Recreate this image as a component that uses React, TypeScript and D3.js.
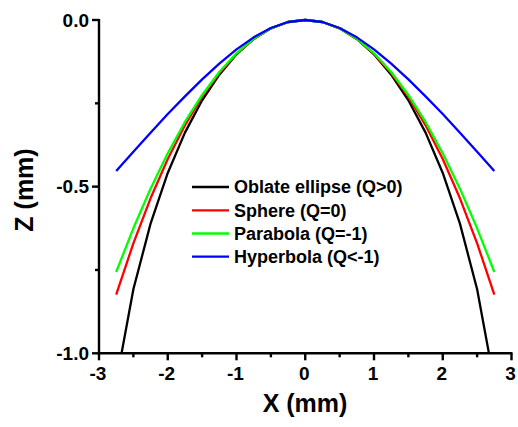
import React from "react";
import * as d3 from "d3";

// Radial positions (mm) where each profile was sampled
const xs = [-2.75, -2.5, -2.25, -2, -1.75, -1.5, -1.25, -1, -0.75, -0.5, -0.25, 0,
  0.25, 0.5, 0.75, 1, 1.25, 1.5, 1.75, 2, 2.25, 2.5, 2.75];

// Sag (mm) of each conic profile
const oblate = [-1.087, -0.808, -0.611, -0.459, -0.338, -0.241, -0.164, -0.103, -0.057, -0.025, -0.006, 0,
  -0.006, -0.025, -0.057, -0.103, -0.164, -0.241, -0.338, -0.459, -0.611, -0.808, -1.087];
const sphere = [-0.824, -0.670, -0.535, -0.417, -0.316, -0.230, -0.159, -0.101, -0.057, -0.025, -0.006, 0,
  -0.006, -0.025, -0.057, -0.101, -0.159, -0.230, -0.316, -0.417, -0.535, -0.670, -0.824];
const parabola = [-0.756, -0.625, -0.506, -0.400, -0.306, -0.225, -0.156, -0.100, -0.056, -0.025, -0.006, 0,
  -0.006, -0.025, -0.056, -0.100, -0.156, -0.225, -0.306, -0.400, -0.506, -0.625, -0.756];
const hyperbola = [-0.453, -0.395, -0.338, -0.282, -0.229, -0.178, -0.131, -0.088, -0.052, -0.024, -0.006, 0,
  -0.006, -0.024, -0.052, -0.088, -0.131, -0.178, -0.229, -0.282, -0.338, -0.395, -0.453];

const seriesNames = ["Oblate ellipse (Q>0)", "Sphere (Q=0)", "Parabola (Q=-1)", "Hyperbola (Q<-1)"];
const seriesColors = ["#000000", "#ff0000", "#00ff00", "#0000ff"];
const seriesValues = [oblate, sphere, parabola, hyperbola];

const xMajor = [-3, -2, -1, 0, 1, 2, 3];
const xMinor = [-2.5, -1.5, -0.5, 0.5, 1.5, 2.5];
const yMajor = [0, -0.5, -1];
const yMinor = [-0.25, -0.75];

const W = 518;
const H = 427;
const FONT = "'Liberation Sans', Arial, Helvetica, sans-serif";

export default function App() {
  const x = d3.scaleLinear().domain([-3, 3]).range([99, 511.5]);
  const y = d3.scaleLinear().domain([-1, 0]).range([353.3, 20]);

  const line = d3
    .line<number>()
    .x((_, i) => x(xs[i]))
    .y((d) => y(d));

  const legendY = [187, 210.3, 233.5, 256.7];

  return (
    <svg
      width={W}
      height={H}
      style={{ position: "absolute", left: 0, top: 0, background: "#fff" }}
      fontFamily={FONT}
    >
      <defs>
        <clipPath id="plot-area">
          <rect x={x(-3)} y={y(0) - 5} width={x(3) - x(-3)} height={y(-1) - y(0) + 5} />
        </clipPath>
      </defs>

      {/* curves */}
      <g clipPath="url(#plot-area)">
        {seriesValues.map((vals, i) => (
          <path
            key={seriesNames[i]}
            d={line(vals) ?? ""}
            fill="none"
            stroke={seriesColors[i]}
            strokeWidth={2.3}
            strokeLinejoin="round"
          />
        ))}
      </g>

      {/* y axis */}
      <g stroke="#000" strokeWidth={2.4}>
        <line x1={x(-3)} x2={x(-3)} y1={y(0) - 1} y2={y(-1) + 1.2} />
        {yMajor.map((v) => (
          <line key={v} x1={x(-3) - 7} x2={x(-3)} y1={y(v)} y2={y(v)} />
        ))}
        {yMinor.map((v) => (
          <line key={v} x1={x(-3) - 4} x2={x(-3)} y1={y(v)} y2={y(v)} />
        ))}
      </g>
      <g fontSize={19} fontWeight="bold" textAnchor="end">
        {yMajor.map((v) => (
          <text key={v} x={x(-3) - 10} y={y(v) + 6.8}>
            {d3.format(".1f")(v).replace("−", "-")}
          </text>
        ))}
      </g>

      {/* x axis */}
      <g stroke="#000" strokeWidth={2.4}>
        <line x1={x(-3) - 1.2} x2={x(3) + 1} y1={y(-1)} y2={y(-1)} />
        {xMajor.map((v) => (
          <line key={v} x1={x(v)} x2={x(v)} y1={y(-1)} y2={y(-1) + 7} />
        ))}
        {xMinor.map((v) => (
          <line key={v} x1={x(v)} x2={x(v)} y1={y(-1)} y2={y(-1) + 4} />
        ))}
      </g>
      <g fontSize={19} fontWeight="bold" textAnchor="middle">
        {xMajor.map((v) => (
          <text key={v} x={x(v) - 1} y={380}>
            {String(v)}
          </text>
        ))}
      </g>

      {/* axis titles */}
      <text x={305} y={412} fontSize={25} fontWeight="bold" textAnchor="middle">
        X (mm)
      </text>
      <text
        transform="translate(33,190) rotate(-90)"
        fontSize={25}
        fontWeight="bold"
        textAnchor="middle"
      >
        Z (mm)
      </text>

      {/* legend */}
      {seriesNames.map((name, i) => (
        <g key={name}>
          <line x1={192} x2={229} y1={legendY[i]} y2={legendY[i]} stroke={seriesColors[i]} strokeWidth={2.3} />
          <text x={234} y={legendY[i] + 6.4} fontSize={18} fontWeight="bold">
            {name}
          </text>
        </g>
      ))}
    </svg>
  );
}
